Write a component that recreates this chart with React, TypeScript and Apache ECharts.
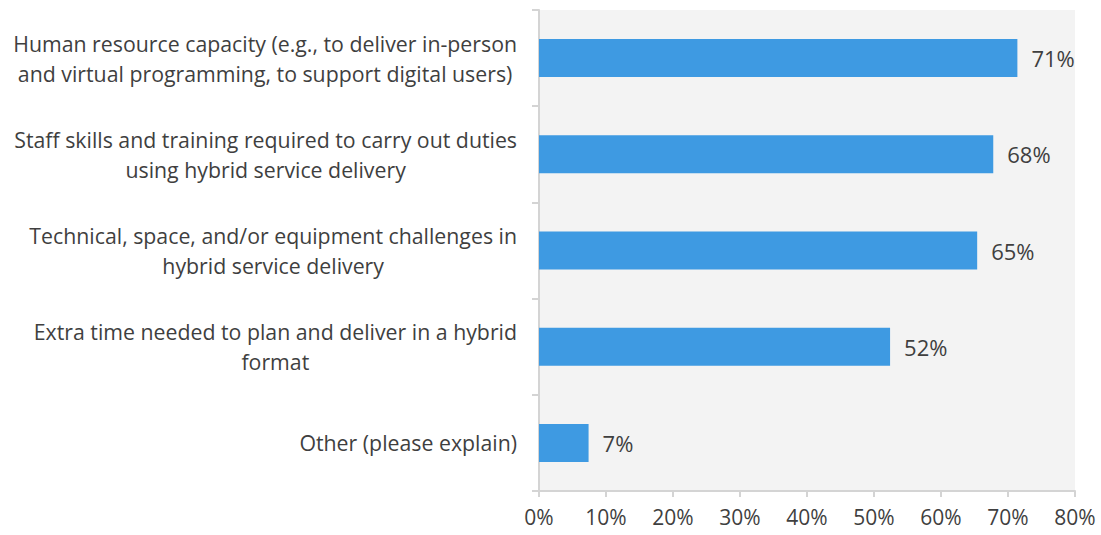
import React, { useEffect, useRef } from "react";
import * as echarts from "echarts";

const categories: string[][] = [
  ["Human resource capacity (e.g., to deliver in-person", "and virtual programming, to support digital users)"],
  ["Staff skills and training required to carry out duties", "using hybrid service delivery"],
  ["Technical, space, and/or equipment challenges in", "hybrid service delivery"],
  ["Extra time needed to plan and deliver in a hybrid", "format"],
  ["Other (please explain)"],
];
const values: number[] = [71.4, 67.8, 65.4, 52.4, 7.4];
const valueLabels: string[] = ["71%", "68%", "65%", "52%", "7%"];

const FONT = "'Open Sans', sans-serif";
const TEXT = "#3f3f3f";
const AXIS = "#d4d4d4";

export default function App() {
  const ref = useRef<HTMLDivElement>(null);
  useEffect(() => {
    if (!ref.current) return;
    const chart = echarts.init(ref.current, undefined, { renderer: "svg" });
    chart.setOption({
      animation: false,
      backgroundColor: "#ffffff",
      textStyle: { fontFamily: FONT },
      grid: {
        left: 539,
        right: 26,
        top: 10,
        bottom: 44,
        show: true,
        backgroundColor: "#f3f3f3",
        borderWidth: 0,
      },
      xAxis: {
        type: "value",
        min: 0,
        max: 80,
        interval: 10,
        axisLine: { show: true, lineStyle: { color: AXIS, width: 2 } },
        axisTick: { show: true, length: 6, lineStyle: { color: AXIS, width: 2 } },
        splitLine: { show: false },
        axisLabel: {
          formatter: "{value}%",
          color: TEXT,
          fontSize: 21,
          fontFamily: FONT,
          margin: 15,
        },
      },
      yAxis: {
        type: "category",
        inverse: true,
        data: categories.map((c) => c.join("\n")),
        axisLine: { show: true, lineStyle: { color: AXIS, width: 2 } },
        axisTick: { show: true, length: 7, lineStyle: { color: AXIS, width: 2 } },
        axisLabel: {
          margin: 22,
          align: "right",
          formatter: (v: string) =>
            v
              .split("\n")
              .map((l) => "{a|" + l + "}")
              .join("\n"),
          rich: {
            a: {
              align: "center",
              color: TEXT,
              fontSize: 21.3,
              fontFamily: FONT,
              lineHeight: 30,
            },
          },
        },
      },
      series: [
        {
          type: "bar",
          data: values,
          barWidth: 38,
          itemStyle: { color: "#3e9ae2" },
          label: {
            show: true,
            position: "right",
            distance: 14,
            color: TEXT,
            fontSize: 22,
            fontFamily: FONT,
            formatter: (p: any) => valueLabels[p.dataIndex],
          },
        },
      ],
    });
    return () => chart.dispose();
  }, []);
  return (
    <div
      ref={ref}
      style={{ position: "fixed", left: 0, top: 0, width: 1101, height: 535 }}
    />
  );
}
